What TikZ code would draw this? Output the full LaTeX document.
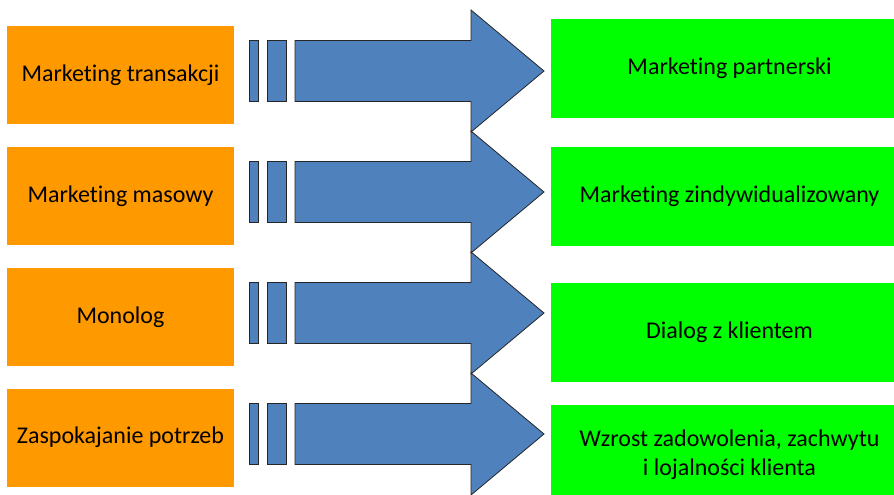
\documentclass[tikz,border=0pt]{standalone}
\usepackage{fontspec}
\setmainfont{Carlito}[RawFeature=-liga]
\usetikzlibrary{positioning,calc}

\definecolor{oldorange}{HTML}{FF9900}
\definecolor{newgreen}{HTML}{00FF00}
\definecolor{shiftblue}{HTML}{4F81BD}

\tikzset{
	oldbox/.style={fill=oldorange, minimum width=227pt, minimum height=98pt,
		inner sep=0pt, align=center, font=\fontsize{24}{28.5}\selectfont},
	newbox/.style={fill=newgreen, minimum width=357pt, minimum height=99pt,
		inner sep=0pt, align=center, font=\fontsize{24}{28.5}\selectfont},
	shiftarrow/.style={fill=shiftblue, draw=black!85, line width=0.8pt, line join=miter}
}

\begin{document}
\begin{tikzpicture}[x=1pt,y=-1pt]
	\useasboundingbox (0,0) rectangle (894,495);
	% left column: old approach
	\node[oldbox] (old1) at (120.5,75)    {Marketing transakcji};
	\node[oldbox] (old2) at (120.5,196)   {Marketing masowy};
	\node[oldbox] (old3) at (120.5,317)   {Monolog};
	\node[oldbox] (old4) at (120.5,437.5) {Zaspokajanie potrzeb};
	% right column: new approach
	\node[newbox] (new1) at (729.5,68.5)  {Marketing partnerski};
	\node[newbox] (new2) at (729.5,196.5) {Marketing zindywidualizowany};
	\node[newbox] (new3) at (729.5,332.5) {Dialog z klientem};
	\node[newbox] (new4) at (729.5,454.5) {Wzrost zadowolenia, zachwytu\\i lojalności klienta};
	% striped arrows between the columns
	\foreach \y in {71,192,313,434} {
		\draw[shiftarrow] (249,\y-30.5) rectangle (258.7,\y+30.5);
		\draw[shiftarrow] (267,\y-30.5) rectangle (286,\y+30.5);
		\draw[shiftarrow] (295,\y-30.5) -- (471,\y-30.5) -- (471,\y-61)
			-- (544,\y) -- (471,\y+61) -- (471,\y+30.5) -- (295,\y+30.5) -- cycle;
	}
\end{tikzpicture}
\end{document}
